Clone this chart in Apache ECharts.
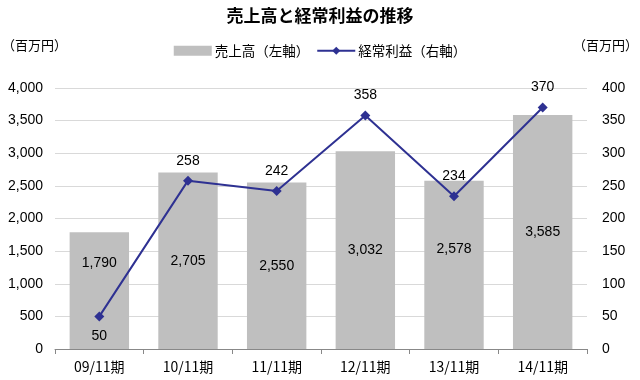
<!DOCTYPE html>
<html><head><meta charset="utf-8">
<script src="https://cdn.jsdelivr.net/npm/echarts@6/dist/echarts.min.js"></script>
<style>html,body{margin:0;padding:0;background:#fff}#c{width:640px;height:380px}</style>
</head><body><div id="c"></div>
<script>
const categories = ['09/11期','10/11期','11/11期','12/11期','13/11期','14/11期'];
const sales = [1790, 2705, 2550, 3032, 2578, 3585];
const profit = [50, 258, 242, 358, 234, 370];
const leftTicks = [0, 500, 1000, 1500, 2000, 2500, 3000, 3500, 4000];
const rightTicks = [0, 50, 100, 150, 200, 250, 300, 350, 400];

const fontLat = '"Liberation Sans", Arial, sans-serif';
const fontCJK = '"Noto Sans CJK JP", sans-serif';
const salesLabelOffsets = [[0,-27],[0,0],[0,0],[0,0],[0,-16],[0,0]];
const profitLabelPos = ['bottom','top','top','top','top','top'];

const chart = echarts.init(document.getElementById('c'));
chart.setOption({
  animation: false,
  title: {text: '売上高と経常利益の推移', left: 'center', top: 2,
    textStyle: {fontFamily: fontCJK, fontWeight: 'bold', fontSize: 17, color: '#000'}},
  legend: {top: 39, left: 'center', itemGap: 7, itemWidth: 38, itemHeight: 10,
    textStyle: {fontFamily: fontCJK, fontSize: 13.5, color: '#000', padding: [0,0,0,-2]},
    data: [{name: '売上高（左軸）', icon: 'rect'}, {name: '経常利益（右軸）'}]},
  graphic: [
    {type: 'text', left: 2, top: 39, style: {text: '（百万円）', font: '13px "Noto Sans CJK JP"', fill: '#000'}},
    {type: 'text', right: 2, top: 39, style: {text: '（百万円）', font: '13px "Noto Sans CJK JP"', fill: '#000'}}
  ],
  grid: {left: 55, right: 53, top: 88, bottom: 31},
  xAxis: {type: 'category', data: categories,
    axisLine: {lineStyle: {color: '#888'}},
    axisTick: {show: true, alignWithLabel: false, length: 5, lineStyle: {color: '#888'}},
    axisLabel: {fontFamily: fontCJK, fontSize: 14, color: '#000', margin: 11}},
  yAxis: [
    {type: 'value', min: leftTicks[0], max: leftTicks[leftTicks.length-1], interval: leftTicks[1]-leftTicks[0],
     axisLine: {show: false}, axisTick: {show: false},
     splitLine: {lineStyle: {color: '#d9d9d9'}},
     axisLabel: {fontFamily: fontLat, fontSize: 14, color: '#000', margin: 12,
       formatter: v => v.toLocaleString('en-US')}},
    {type: 'value', min: rightTicks[0], max: rightTicks[rightTicks.length-1], interval: rightTicks[1]-rightTicks[0],
     axisLine: {show: false}, axisTick: {show: false}, splitLine: {show: false},
     axisLabel: {fontFamily: fontLat, fontSize: 14, color: '#000', margin: 15}}
  ],
  series: [
    {name: '売上高（左軸）', type: 'bar', yAxisIndex: 0, barCategoryGap: '33%',
     itemStyle: {color: '#bfbfbf'},
     data: sales.map((v, i) => ({value: v, label: {offset: salesLabelOffsets[i]}})),
     label: {show: true, position: 'inside', fontFamily: fontLat, fontSize: 14, color: '#000',
       formatter: p => p.value.toLocaleString('en-US')}},
    {name: '経常利益（右軸）', type: 'line', yAxisIndex: 1,
     symbol: 'diamond', symbolSize: 10,
     lineStyle: {color: '#2e3192', width: 2}, itemStyle: {color: '#2e3192'},
     data: profit.map((v, i) => ({value: v, label: {position: profitLabelPos[i]}})),
     label: {show: true, distance: 8, fontFamily: fontLat, fontSize: 14, color: '#000'}}
  ]
});
</script></body></html>
